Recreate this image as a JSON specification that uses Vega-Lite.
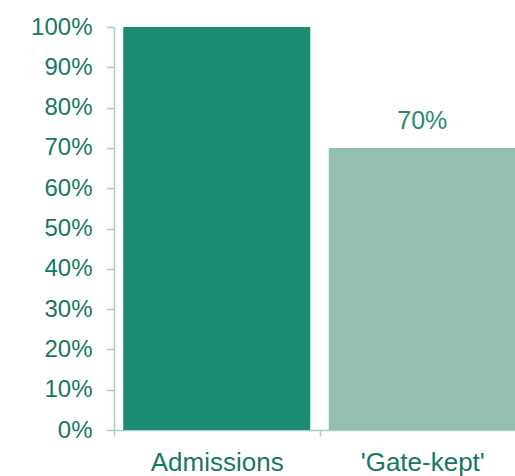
{
  "$schema": "https://vega.github.io/schema/vega-lite/v6.json",
  "autosize": "none",
  "padding": {"left": 114, "top": 27, "right": 0, "bottom": 46},
  "width": 401,
  "height": 403,
  "background": "white",
  "config": {
    "view": {"stroke": null},
    "font": "Liberation Sans"
  },
  "data": {
    "values": [
      {"category": "Admissions", "share": 1.0, "show": false},
      {"category": "'Gate-kept'", "share": 0.7, "show": true}
    ]
  },
  "encoding": {
    "x": {
      "field": "category",
      "type": "nominal",
      "sort": null,
      "scale": {"paddingInner": 0.09, "paddingOuter": 0.045, "range": [0, 411]},
      "axis": {
        "title": null,
        "labelAngle": 0,
        "labelFontSize": 26,
        "labelColor": "#17785f",
        "labelPadding": 13,
        "tickOffset": -102.7,
        "labelOffset": 102.7,
        "tickSize": 6,
        "tickColor": "#a9d1c5",
        "tickWidth": 1.5,
        "domainColor": "#a9d1c5",
        "domainWidth": 1.5,
        "grid": false
      }
    },
    "y": {
      "field": "share",
      "type": "quantitative",
      "scale": {"domain": [0, 1], "nice": false},
      "axis": {
        "title": null,
        "format": ".0%",
        "values": [0, 0.1, 0.2, 0.3, 0.4, 0.5, 0.6, 0.7, 0.8, 0.9, 1.0],
        "labelFontSize": 24,
        "labelColor": "#17785f",
        "labelPadding": 14,
        "tickSize": 8,
        "tickColor": "#a9d1c5",
        "tickWidth": 1.5,
        "domainColor": "#a9d1c5",
        "domainWidth": 1.5,
        "grid": false
      }
    }
  },
  "layer": [
    {
      "mark": {"type": "bar"},
      "encoding": {
        "color": {
          "field": "category",
          "type": "nominal",
          "sort": null,
          "scale": {"range": ["#1b8b73", "#92bfb2"]},
          "legend": null
        }
      }
    },
    {
      "transform": [{"filter": "datum.show"}],
      "mark": {"type": "text", "dy": -19, "baseline": "alphabetic", "fontSize": 25, "color": "#2a8a72"},
      "encoding": {
        "text": {"field": "share", "type": "quantitative", "format": ".0%"}
      }
    }
  ]
}
